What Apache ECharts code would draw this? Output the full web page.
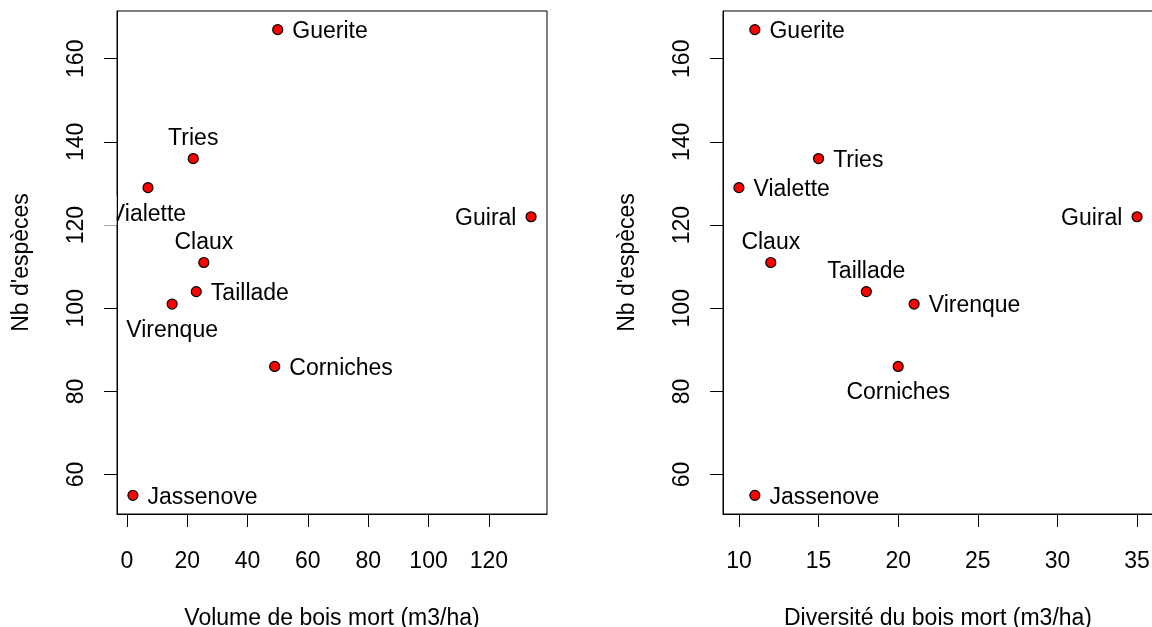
<!DOCTYPE html>
<html>
<head>
<meta charset="utf-8">
<script src="https://cdn.jsdelivr.net/npm/echarts@6/dist/echarts.min.js"></script>
<style>
  html, body { margin: 0; padding: 0; background: #fff; }
  #chart { width: 1152px; height: 627px; }
</style>
</head>
<body>
<div id="chart"></div>
<script>
// Sites and their measurements
const sites = ['Guerite', 'Tries', 'Vialette', 'Guiral', 'Claux', 'Taillade', 'Virenque', 'Corniches', 'Jassenove'];
const nbEspeces = [167, 136, 129, 122, 111, 104, 101, 86, 55];
const volumeBoisMort = [50, 22, 7, 134, 25.5, 23, 15, 49, 2];
const diversiteBoisMort = [11, 15, 10, 35, 12, 18, 21, 20, 11];

// Where each site name sits relative to its point, per panel
const labelPosVolume = ['right', 'top', 'bottom', 'left', 'top', 'right', 'bottom', 'right', 'right'];
const labelPosDiversite = ['right', 'right', 'right', 'left', 'top', 'top', 'right', 'bottom', 'right'];

// Tick values
const ticksVolume = [0, 20, 40, 60, 80, 100, 120];
const ticksDiversite = [10, 15, 20, 25, 30, 35];
const ticksEspeces = [60, 80, 100, 120, 140, 160];

const FONT = '"Liberation Sans", Arial, Helvetica, sans-serif';
const FS = 23;

// Axis range padded by 4% on each side
function padded(values) {
  const lo = Math.min(...values), hi = Math.max(...values);
  const d = (hi - lo) * 0.04;
  return [lo - d, hi + d];
}

const [vMin, vMax] = padded(volumeBoisMort);
const [dMin, dMax] = padded(diversiteBoisMort);
const [eMin, eMax] = padded(nbEspeces);

function xAxisDef(gridIndex, min, max, ticks, name) {
  return {
    type: 'value', gridIndex, min, max,
    name, nameLocation: 'middle', nameGap: 93,
    nameTextStyle: { fontSize: FS, color: '#000', fontFamily: FONT },
    axisLine: { show: true, onZero: false, lineStyle: { color: '#000', width: 1 } },
    axisTick: { show: true, inside: false, length: 13, customValues: ticks, lineStyle: { color: '#000', width: 1 } },
    axisLabel: { customValues: ticks, margin: 36, fontSize: FS, color: '#000', fontFamily: FONT },
    splitLine: { show: false }
  };
}

function yAxisDef(gridIndex) {
  return {
    type: 'value', gridIndex, min: eMin, max: eMax,
    name: "Nb d'espèces", nameLocation: 'middle', nameGap: 84, nameRotate: 90,
    nameTextStyle: { fontSize: FS, color: '#000', fontFamily: FONT },
    axisLine: { show: true, onZero: false, lineStyle: { color: '#000', width: 1 } },
    axisTick: { show: true, inside: false, length: 13, customValues: ticksEspeces, lineStyle: { color: '#000', width: 1 } },
    axisLabel: { customValues: ticksEspeces, rotate: 90, margin: 29, fontSize: FS, color: '#000', fontFamily: FONT },
    splitLine: { show: false }
  };
}

// Gap between point and name, by placement
const LABEL_GAP = { top: 5, bottom: 7.5, left: 9, right: 9 };

function seriesDef(idx, xs, positions) {
  return {
    type: 'scatter', xAxisIndex: idx, yAxisIndex: idx,
    symbol: 'circle', symbolSize: 10,
    itemStyle: { color: '#ff0000', borderColor: '#000', borderWidth: 1.2, opacity: 1 },
    data: sites.map((s, i) => ({
      name: s,
      value: [xs[i], nbEspeces[i]],
      label: {
        show: true,
        position: positions[i],
        distance: LABEL_GAP[positions[i]],
        offset: [0, 2],
        formatter: '{b}',
        fontSize: FS, color: '#000', fontFamily: FONT
      }
    })),
    emphasis: { disabled: true },
    animation: false
  };
}

const gridBase = {
  top: 11, width: 430, height: 503,
  show: true, borderColor: '#000', borderWidth: 1,
  containLabel: false, outerBoundsMode: 'none'
};

const chart = echarts.init(document.getElementById('chart'), null, { renderer: 'canvas' });
chart.setOption({
  backgroundColor: '#fff',
  animation: false,
  grid: [
    Object.assign({ left: 117 }, gridBase),
    Object.assign({ left: 723 }, gridBase)
  ],
  xAxis: [
    xAxisDef(0, vMin, vMax, ticksVolume, 'Volume de bois mort (m3/ha)'),
    xAxisDef(1, dMin, dMax, ticksDiversite, 'Diversité du bois mort (m3/ha)')
  ],
  yAxis: [yAxisDef(0), yAxisDef(1)],
  series: [
    seriesDef(0, volumeBoisMort, labelPosVolume),
    seriesDef(1, diversiteBoisMort, labelPosDiversite)
  ]
});

// Text is clipped to the plotting region: mask any label overflow left of the first panel
const vi = sites.indexOf('Vialette');
const p = chart.convertToPixel({ gridIndex: 0 }, [volumeBoisMort[vi], nbEspeces[vi]]);
const gridLeft = chart.convertToPixel({ gridIndex: 0 }, [vMin, eMin])[0];
chart.setOption({
  graphic: [{
    type: 'rect', z: 100,
    shape: { x: gridLeft - 22, y: p[1] + 8, width: 21.5, height: 30 },
    style: { fill: '#fff' }
  }]
});
</script>
</body>
</html>
